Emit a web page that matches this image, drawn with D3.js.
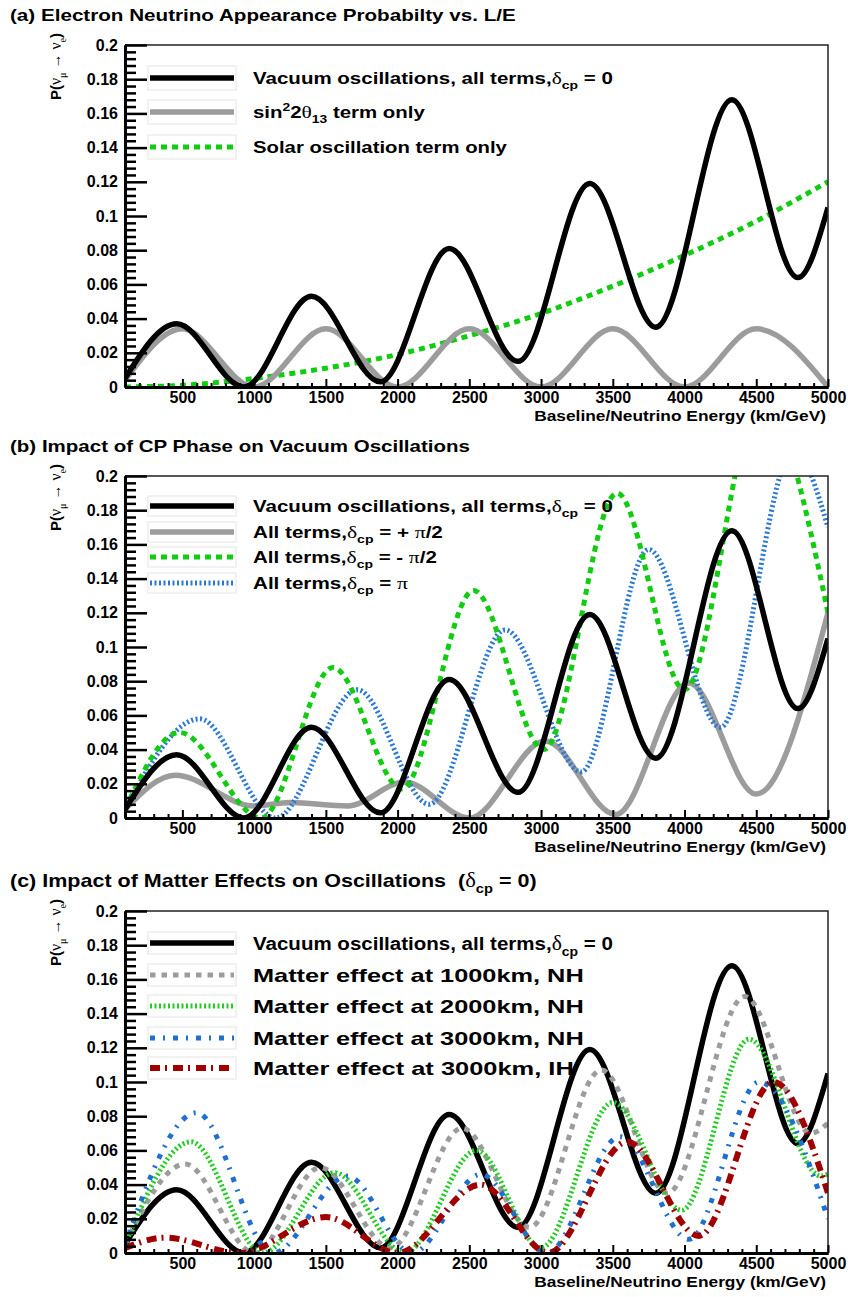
<!DOCTYPE html>
<html>
<head>
<meta charset="utf-8">
<script src="https://cdn.jsdelivr.net/npm/d3@7"></script>
<style>
  body { margin: 0; background: #fff; }
  text { font-family: "Liberation Sans", Arial, sans-serif; font-weight: bold; fill: #000; }
</style>
</head>
<body>
<svg id="chart" width="848" height="1297"></svg>
<script>
// ---- data ----
var xMajorTicks = [500, 1000, 1500, 2000, 2500, 3000, 3500, 4000, 4500, 5000];
var yMajorTicks = [0, 0.02, 0.04, 0.06, 0.08, 0.1, 0.12, 0.14, 0.16, 0.18, 0.2];
var yTickLabels = ["0", "0.02", "0.04", "0.06", "0.08", "0.1", "0.12", "0.14", "0.16", "0.18", "0.2"];

// vacuum oscillations, all terms, dcp = 0 (same curve in all three panels)
var vacuumAll = [[100, 0.005], [460, 0.037], [930, 0.0], [1400, 0.053], [1880, 0.003], [2360, 0.081],
  [2840, 0.015], [3340, 0.119], [3800, 0.035], [4330, 0.168], [4790, 0.064], [5000, 0.105]];
// (a)
var theta13Only = [[100, 0.004], [500, 0.034], [1000, 0.0], [1500, 0.034], [2000, 0.0], [2500, 0.034],
  [3000, 0.0], [3500, 0.034], [4000, 0.0], [4500, 0.034], [5000, 0.0]];
var solarOnly = [[100, 0.0], [500, 0.001], [1000, 0.005], [1500, 0.011], [2000, 0.019], [2500, 0.03],
  [3000, 0.043], [3500, 0.059], [4000, 0.077], [4500, 0.097], [5000, 0.12]];
// (b)
var cpPlusHalfPi = [[100, 0.005], [450, 0.025], [1000, 0.007], [1250, 0.009], [1650, 0.007], [2050, 0.021],
  [2500, 0.0], [3030, 0.045], [3520, 0.002], [4030, 0.079], [4500, 0.014], [5000, 0.12]];
var cpMinusHalfPi = [[100, 0.005], [480, 0.05], [1050, 0.0], [1550, 0.088], [2030, 0.017], [2530, 0.133],
  [3020, 0.04], [3530, 0.19], [4000, 0.075], [4530, 0.245], [5000, 0.12]];
var cpPi = [[100, 0.005], [620, 0.058], [1150, 0.0], [1720, 0.075], [2220, 0.008], [2750, 0.11],
  [3280, 0.027], [3750, 0.157], [4250, 0.053], [4760, 0.215], [5000, 0.17]];
// (c)
var matter1000NH = [[100, 0.005], [520, 0.052], [1000, 0.0], [1460, 0.05], [1950, 0.003], [2450, 0.073],
  [2920, 0.015], [3420, 0.107], [3880, 0.035], [4420, 0.15], [4880, 0.07], [5000, 0.076]];
var matter2000NH = [[100, 0.005], [560, 0.065], [1060, 0.0], [1560, 0.047], [2050, 0.0], [2550, 0.06],
  [3000, 0.003], [3500, 0.088], [3980, 0.025], [4450, 0.125], [4950, 0.045], [5000, 0.046]];
var matter3000NH = [[100, 0.005], [600, 0.082], [1130, 0.0], [1650, 0.045], [2100, 0.0], [2580, 0.046],
  [3040, 0.0], [3550, 0.068], [4030, 0.008], [4520, 0.1], [5000, 0.02]];
var matter3000IH = [[100, 0.003], [380, 0.009], [900, 0.0], [1500, 0.021], [2000, 0.0], [2580, 0.04],
  [3050, 0.0], [3600, 0.065], [4100, 0.01], [4620, 0.1], [5000, 0.035]];

// ---- styles ----
var styles = {
  black:   { color: "#000000", width: 5.5, dash: null },
  gray:    { color: "#9c9c9c", width: 5.5, dash: null },
  greenSq: { color: "#11cc11", width: 5, dash: "6,5" },
  blueDot: { color: "#2a78d4", width: 5, dash: "2,2.5" },
  graySq:  { color: "#9c9c9c", width: 5, dash: "5.5,6" },
  greenDot:{ color: "#22cc22", width: 5, dash: "2,2.5" },
  blueDD:  { color: "#1f6fd0", width: 5, dash: "5,8,2,8" },
  redDD:   { color: "#a00000", width: 6, dash: "10,5,2,6" }
};

var vacLabel = [{ t: "Vacuum oscillations, all terms," }, { t: "δ", g: 1 }, { t: "cp", s: 1 }, { t: " = 0" }];

var panels = [
  {
    title: [{ t: "(a) Electron Neutrino Appearance Probabilty vs. L/E" }], titleW: 506,
    top: 45, legendRows: [33, 67, 102], boxH: 24, fs: 16.5,
    series: [
      { data: solarOnly, style: "greenSq" },
      { data: theta13Only, style: "gray" },
      { data: vacuumAll, style: "black" }
    ],
    legend: [
      { style: "black", label: vacLabel, w: 360 },
      { style: "gray", label: [{ t: "sin" }, { t: "2", sup: 1 }, { t: "2" }, { t: "θ", g: 1 }, { t: "13", s: 1 }, { t: " term only" }], w: 172 },
      { style: "greenSq", label: [{ t: "Solar oscillation term only" }], w: 254 }
    ]
  },
  {
    title: [{ t: "(b) Impact of CP Phase on Vacuum Oscillations" }], titleW: 460,
    top: 476, legendRows: [30, 56, 81, 107], boxH: 20, fs: 16.5,
    series: [
      { data: cpPlusHalfPi, style: "gray" },
      { data: cpPi, style: "blueDot" },
      { data: cpMinusHalfPi, style: "greenSq" },
      { data: vacuumAll, style: "black" }
    ],
    legend: [
      { style: "black", label: vacLabel, w: 360 },
      { style: "gray", label: [{ t: "All terms," }, { t: "δ", g: 1 }, { t: "cp", s: 1 }, { t: " = + " }, { t: "π", g: 1 }, { t: "/2" }], w: 190 },
      { style: "greenSq", label: [{ t: "All terms," }, { t: "δ", g: 1 }, { t: "cp", s: 1 }, { t: " = - " }, { t: "π", g: 1 }, { t: "/2" }], w: 184 },
      { style: "blueDot", label: [{ t: "All terms," }, { t: "δ", g: 1 }, { t: "cp", s: 1 }, { t: " = " }, { t: "π", g: 1 }], w: 155 }
    ]
  },
  {
    title: [{ t: "(c) Impact of Matter Effects on Oscillations\u00a0\u00a0(" }, { t: "δ", g: 1 }, { t: "cp", s: 1 }, { t: " = 0)" }], titleW: 527,
    top: 911, legendRows: [32, 64, 95, 127, 157], boxH: 22, fs: 19,
    series: [
      { data: vacuumAll, style: "black" },
      { data: matter1000NH, style: "graySq" },
      { data: matter2000NH, style: "greenDot" },
      { data: matter3000NH, style: "blueDD" },
      { data: matter3000IH, style: "redDD" }
    ],
    legend: [
      { style: "black", label: vacLabel, w: 360 },
      { style: "graySq", label: [{ t: "Matter effect at 1000km, NH" }], w: 331 },
      { style: "greenDot", label: [{ t: "Matter effect at 2000km, NH" }], w: 331 },
      { style: "blueDD", label: [{ t: "Matter effect at 3000km, NH" }], w: 331 },
      { style: "redDD", label: [{ t: "Matter effect at 3000km, IH" }], w: 321 }
    ]
  }
];

// ---- drawing ----
var plotH = 342;
var svg = d3.select("#chart");
var xScale = d3.scaleLinear().domain([100, 5000]).range([125, 828]);

// write rich text (greek letters, sub/superscripts) into a text element
function richText(sel, parts, size) {
  var back = 0; // shift still owed to return to the baseline
  parts.forEach(function (p) {
    var ts = sel.append("tspan").attr("font-size", size).text(p.t);
    var shift = 0;
    if (p.g) ts.style("font-family", "'Liberation Serif', 'DejaVu Serif', serif").style("font-weight", "normal").attr("font-size", size * 1.05);
    if (p.s) { ts.attr("font-size", size * 0.68); shift = size * 0.3; }
    if (p.sup) { ts.attr("font-size", size * 0.68); shift = -size * 0.4; }
    if (shift - back !== 0) ts.attr("dy", shift - back);
    back = shift;
  });
}

// stretch a text horizontally so it covers the width seen in the reference
function fitWidth(sel, x, y, width, rotate) {
  var w = sel.node().getComputedTextLength();
  var k = width / w;
  sel.attr("transform", "translate(" + x + "," + y + ")" + (rotate ? " rotate(-90)" : "") + " scale(" + k + ",1)");
}

function styleLine(sel, st) {
  sel.attr("fill", "none")
    .attr("stroke", st.color)
    .attr("stroke-width", st.width)
    .attr("stroke-dasharray", st.dash)
    .attr("stroke-linejoin", "round");
}

panels.forEach(function (panel, pi) {
  var top = panel.top, bottom = top + plotH;
  var yScale = d3.scaleLinear().domain([0, 0.2]).range([bottom, top]);
  var g = svg.append("g");

  // title
  var title = g.append("text").attr("font-size", panel.fs);
  richText(title, panel.title, panel.fs);
  fitWidth(title, 10, top - 24, panel.titleW);

  // clip for the curves
  g.append("clipPath").attr("id", "clip" + pi)
    .append("rect").attr("x", 125).attr("y", top).attr("width", 703).attr("height", plotH);

  var line = d3.line()
    .x(function (d) { return xScale(d[0]); })
    .y(function (d) { return yScale(d[1]); })
    .curve(d3.curveMonotoneX);

  var curves = g.append("g").attr("clip-path", "url(#clip" + pi + ")");
  panel.series.forEach(function (s) {
    curves.append("path").attr("d", line(s.data)).call(styleLine, styles[s.style]);
  });

  // frame (top + right)
  g.append("path")
    .attr("d", "M125," + top + "H828V" + bottom)
    .attr("fill", "none").attr("stroke", "#222").attr("stroke-width", 1.5);

  // y axis: major and minor ticks pointing inward
  var yMinor = d3.range(0, 0.2001, 0.004).filter(function (v) { return Math.abs(v / 0.02 - Math.round(v / 0.02)) > 0.01; });
  var yMinorAxis = g.append("g").attr("transform", "translate(125,0)")
    .call(d3.axisLeft(yScale).tickValues(yMinor).tickFormat("").tickSizeInner(-11).tickSizeOuter(0));
  yMinorAxis.selectAll("text").remove();
  var yAxis = g.append("g").attr("transform", "translate(125,0)")
    .call(d3.axisLeft(yScale).tickValues(yMajorTicks)
      .tickFormat(function (d, i) { return yTickLabels[i]; })
      .tickSizeInner(-22).tickSizeOuter(0).tickPadding(7));
  [yMinorAxis, yAxis].forEach(function (a) {
    a.selectAll("line").attr("stroke", "#000").attr("stroke-width", 2.5);
    a.select(".domain").attr("stroke", "#000").attr("stroke-width", 3);
  });
  yAxis.selectAll("text").attr("font-size", 16).attr("font-family", null);

  // x axis
  var xMinor = d3.range(200, 5000, 100).filter(function (v) { return v % 500 !== 0; });
  var xMinorAxis = g.append("g").attr("transform", "translate(0," + bottom + ")")
    .call(d3.axisBottom(xScale).tickValues(xMinor).tickFormat("").tickSizeInner(-4).tickSizeOuter(0));
  xMinorAxis.selectAll("text").remove();
  var xAxis = g.append("g").attr("transform", "translate(0," + bottom + ")")
    .call(d3.axisBottom(xScale).tickValues(xMajorTicks).tickFormat(d3.format("d"))
      .tickSizeInner(-8).tickSizeOuter(0).tickPadding(5));
  [xMinorAxis, xAxis].forEach(function (a) {
    a.selectAll("line").attr("stroke", "#000").attr("stroke-width", 2);
    a.select(".domain").attr("stroke", "#000").attr("stroke-width", 3);
  });
  xAxis.selectAll("text").attr("font-size", 16).attr("font-family", null);

  // axis titles
  var xTitle = g.append("text")
    .attr("text-anchor", "end").attr("font-size", 15)
    .text("Baseline/Neutrino Energy (km/GeV)");
  fitWidth(xTitle, 826, bottom + 34, 292);

  var yTitle = g.append("text").attr("text-anchor", "end").attr("font-size", 15.5);
  richText(yTitle, [{ t: "P(" }, { t: "ν", g: 1 }, { t: "μ", g: 1, s: 1 }, { t: " → " }, { t: "ν", g: 1 }, { t: "e", g: 1, s: 1 }, { t: ")" }], 15.5);
  fitWidth(yTitle, 61, top - 12, 67, true);

  // legend
  panel.legend.forEach(function (entry, i) {
    var cy = top + panel.legendRows[i];
    g.append("rect")
      .attr("x", 148).attr("y", cy - panel.boxH / 2)
      .attr("width", 88).attr("height", panel.boxH)
      .attr("fill", "#fff").attr("stroke", "#e4e4e4").attr("stroke-width", 1);
    g.append("line")
      .attr("x1", 150).attr("x2", 234).attr("y1", cy).attr("y2", cy)
      .call(styleLine, styles[entry.style]);
    var t = g.append("text").attr("font-size", panel.fs);
    richText(t, entry.label, panel.fs);
    fitWidth(t, 253, cy + panel.fs * 0.36, entry.w);
  });
});
</script>
</body>
</html>
